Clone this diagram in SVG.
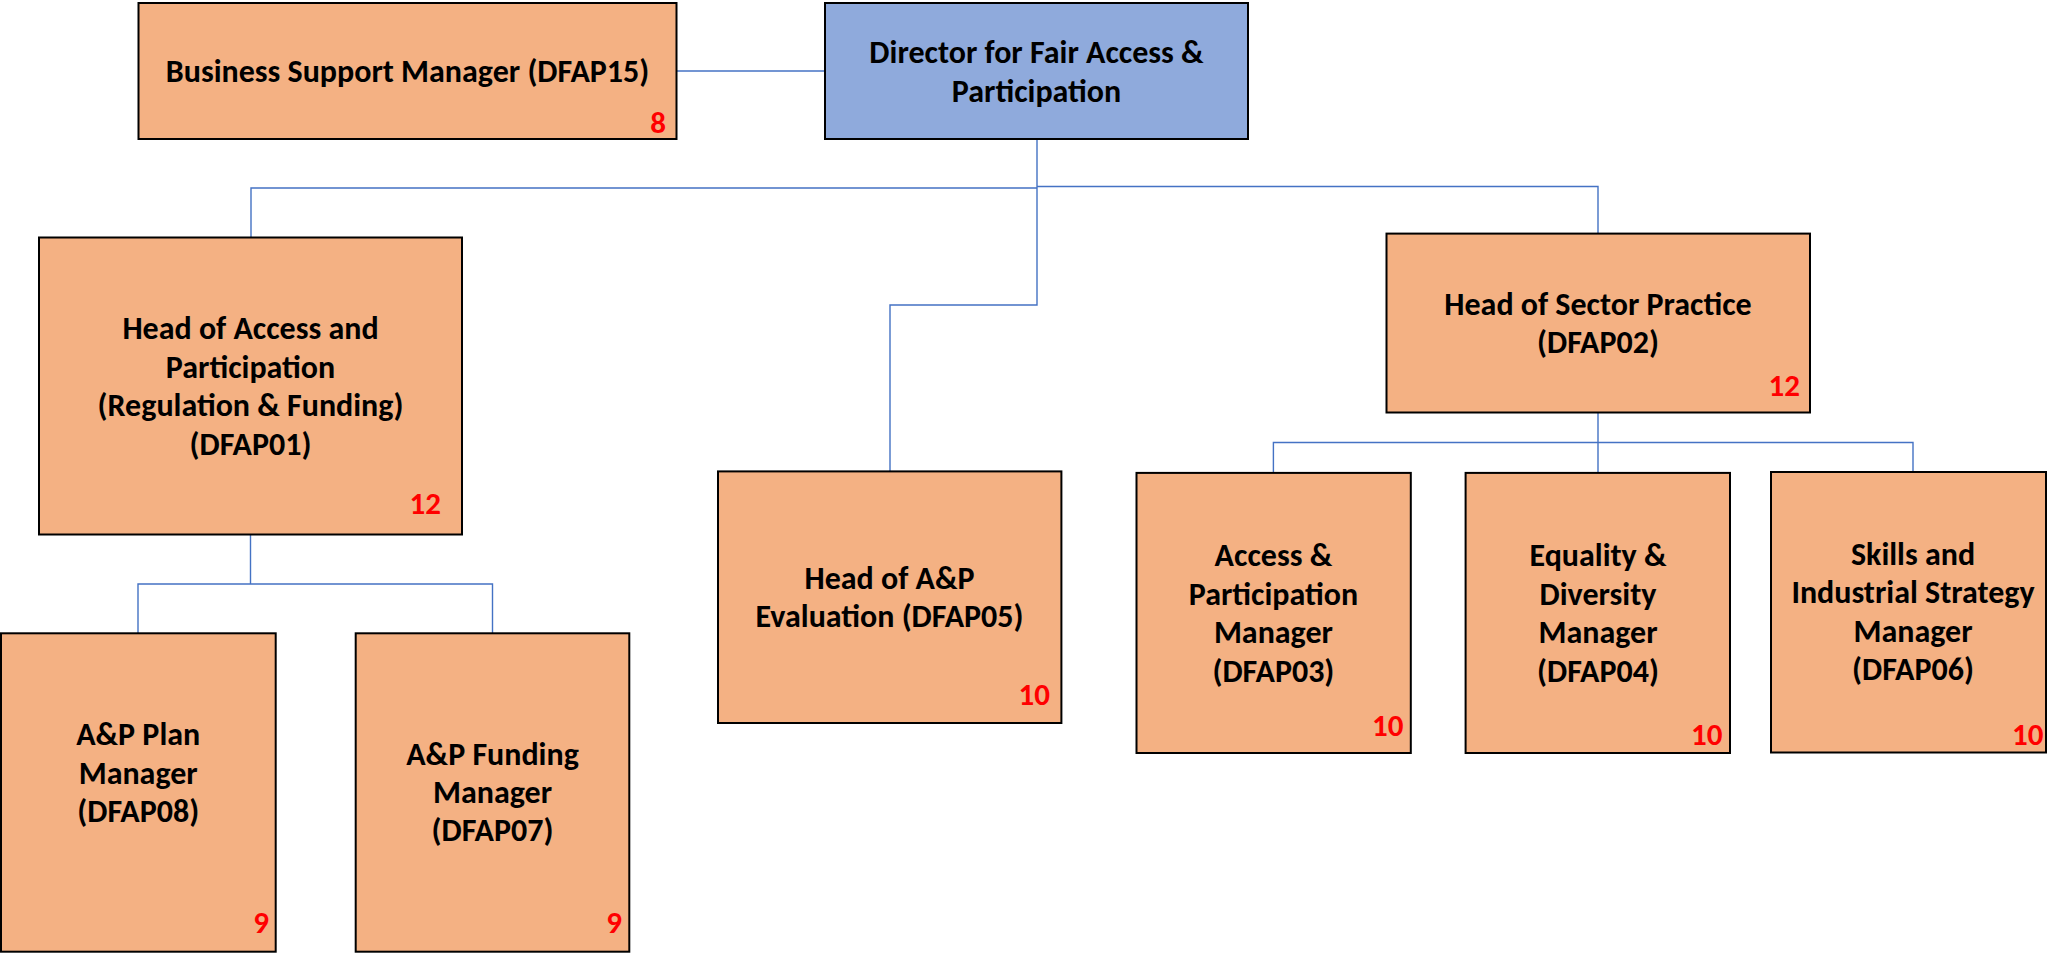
<svg xmlns="http://www.w3.org/2000/svg" width="2054" height="954" viewBox="0 0 2054 954">
<style>
.box{fill:#F4B183;stroke:#000;stroke-width:2}
.dir{fill:#8FAADC;stroke:#000;stroke-width:2}
.t{font-family:Carlito,Lato,"Liberation Sans",sans-serif;font-weight:bold;font-size:32px;fill:#000;text-anchor:middle}
.n{font-family:Carlito,Lato,"Liberation Sans",sans-serif;font-weight:bold;font-size:31px;fill:#FF0000;text-anchor:end}
.c{fill:none;stroke:#4472C4;stroke-width:1.4}
</style>
<rect width="2054" height="954" fill="#fff"/>
<g id="connectors">
<path class="c" d="M677 71H825"/>
<path class="c" d="M1037 139V305H890V471"/>
<path class="c" d="M1037 188H251V237"/>
<path class="c" d="M1037 186.5H1598V233.6"/>
<path class="c" d="M250.5 535V584M138 633V584H492.5V633"/>
<path class="c" d="M1598 412.5V472M1273.4 472V442.5H1913V472"/>
</g>
<g id="bsm">
<rect class="box" x="138.5" y="3" width="538" height="136"/>
<text class="t" x="407.5" y="82">Business Support Manager (DFAP15)</text>
<text class="n" x="666" y="133">8</text>
</g>
<g id="director">
<rect class="dir" x="825" y="3" width="423" height="136"/>
<text class="t" x="1036.5" y="63">Director for Fair Access &amp;</text>
<text class="t" x="1036.5" y="101.5">Participation</text>
</g>
<g id="dfap01">
<rect class="box" x="39" y="237.5" width="423" height="297"/>
<text class="t" x="250.5" y="339">Head of Access and</text>
<text class="t" x="250.5" y="377.5">Participation</text>
<text class="t" x="250.5" y="416">(Regulation &amp; Funding)</text>
<text class="t" x="250.5" y="454.5">(DFAP01)</text>
<text class="n" x="441" y="514">12</text>
</g>
<g id="dfap05">
<rect class="box" x="718" y="471.4" width="343.4" height="251.6"/>
<text class="t" x="889.5" y="588.5">Head of A&amp;P</text>
<text class="t" x="889.5" y="627">Evaluation (DFAP05)</text>
<text class="n" x="1050" y="705">10</text>
</g>
<g id="dfap02">
<rect class="box" x="1386.5" y="233.6" width="423.5" height="178.9"/>
<text class="t" x="1598" y="314.5">Head of Sector Practice</text>
<text class="t" x="1598" y="353">(DFAP02)</text>
<text class="n" x="1800" y="395.5">12</text>
</g>
<g id="dfap08">
<rect class="box" x="1" y="633.3" width="274.7" height="318.4"/>
<text class="t" x="138.2" y="745">A&amp;P Plan</text>
<text class="t" x="138.2" y="783.5">Manager</text>
<text class="t" x="138.2" y="822">(DFAP08)</text>
<text class="n" x="269" y="933">9</text>
</g>
<g id="dfap07">
<rect class="box" x="355.7" y="633.3" width="273.6" height="318.4"/>
<text class="t" x="492.5" y="764.5">A&amp;P Funding</text>
<text class="t" x="492.5" y="803">Manager</text>
<text class="t" x="492.5" y="841">(DFAP07)</text>
<text class="n" x="622" y="933">9</text>
</g>
<g id="dfap03">
<rect class="box" x="1136.5" y="472.9" width="274.3" height="280.1"/>
<text class="t" x="1273.4" y="566">Access &amp;</text>
<text class="t" x="1273.4" y="604.5">Participation</text>
<text class="t" x="1273.4" y="643">Manager</text>
<text class="t" x="1273.4" y="681.5">(DFAP03)</text>
<text class="n" x="1403.5" y="736">10</text>
</g>
<g id="dfap04">
<rect class="box" x="1465.6" y="472.9" width="264.4" height="280.1"/>
<text class="t" x="1598" y="566">Equality &amp;</text>
<text class="t" x="1598" y="604.5">Diversity</text>
<text class="t" x="1598" y="643">Manager</text>
<text class="t" x="1598" y="681.5">(DFAP04)</text>
<text class="n" x="1722.5" y="745">10</text>
</g>
<g id="dfap06">
<rect class="box" x="1771" y="472" width="275" height="280.5"/>
<text class="t" x="1913" y="564.5">Skills and</text>
<text class="t" x="1913" y="603">Industrial Strategy</text>
<text class="t" x="1913" y="641.5">Manager</text>
<text class="t" x="1913" y="680">(DFAP06)</text>
<text class="n" x="2043.5" y="745">10</text>
</g>
</svg>
